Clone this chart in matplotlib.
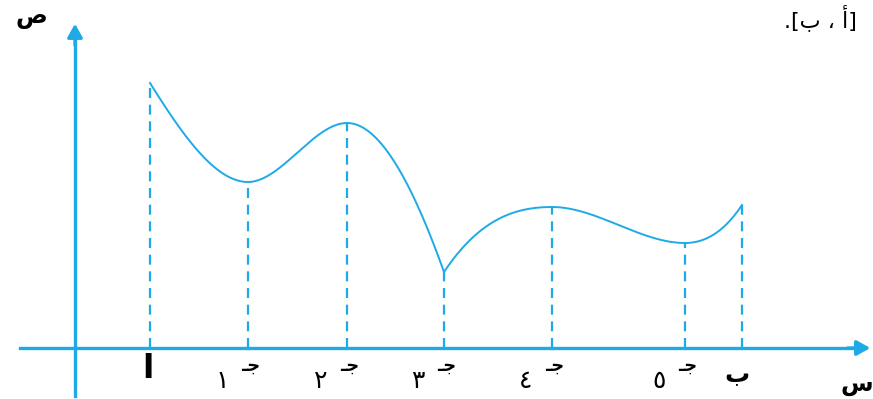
import numpy as np
import matplotlib
matplotlib.use("Agg")
import matplotlib.pyplot as plt

# Key points of the curve (units: x to the right of the y-axis, y above the x-axis)
point_names = ["a", "c1", "c2", "c3", "c4", "c5", "b"]
x_vals = [0.75, 1.73, 2.72, 3.69, 4.77, 6.10, 6.67]
y_vals = [2.65, 1.66, 2.25, 0.76, 1.41, 1.05, 1.43]
# slopes at left/right side of each key point (cusp at c3)
slope_left = [None, 0.0, 0.0, -2.8, 0.0, 0.0, 1.5]
slope_right = [-1.6, 0.0, 0.0, 1.5, 0.0, 0.0, None]

tick_labels = ["ا", "١", "٢", "٣", "٤", "٥", "ب"]  # a, c1..c5 digits, b
sub_glyph = "ـﺟ"  # visual order of "جـ"
y_axis_label = "ﺹ"
x_axis_label = "ﺱ"
interval_text = ".[ﺏ ، ﺃ]"

blue = "#1eaae6"
fig = plt.figure(figsize=(8.73, 3.99), dpi=100)
ax = fig.add_axes([0, 0, 1, 1])
ax.set_xlim(-0.75, 7.98)
ax.set_ylim(-0.51, 3.48)
ax.axis("off")

# curve via cubic Hermite segments
xs_all, ys_all = [], []
for i in range(len(x_vals) - 1):
    x0, x1 = x_vals[i], x_vals[i + 1]
    y0, y1 = y_vals[i], y_vals[i + 1]
    m0, m1 = slope_right[i], slope_left[i + 1]
    h = x1 - x0
    t = np.linspace(0, 1, 120)
    h00 = 2 * t**3 - 3 * t**2 + 1
    h10 = t**3 - 2 * t**2 + t
    h01 = -2 * t**3 + 3 * t**2
    h11 = t**3 - t**2
    xs_all.append(x0 + t * h)
    ys_all.append(h00 * y0 + h10 * h * m0 + h01 * y1 + h11 * h * m1)
ax.plot(np.concatenate(xs_all), np.concatenate(ys_all), color=blue, lw=1.4)

# dashed verticals
for x, y in zip(x_vals, y_vals):
    ax.plot([x, x], [0, y], color=blue, lw=1.6, ls=(0, (4.5, 3)))

# axes with arrows
ax.plot([-0.55, 7.9], [0, 0], color=blue, lw=2.4)
ax.plot([0, 0], [-0.48, 3.15], color=blue, lw=2.4)
ax.annotate("", xy=(7.98, 0), xytext=(7.7, 0),
            arrowprops=dict(arrowstyle="-|>,head_length=0.8,head_width=0.45", color=blue, lw=2.4))
ax.annotate("", xy=(0, 3.27), xytext=(0, 3.0),
            arrowprops=dict(arrowstyle="-|>,head_length=0.8,head_width=0.45", color=blue, lw=2.4))

# labels under x-axis
ax.text(x_vals[0] - 0.02, -0.21, tick_labels[0], fontsize=24, ha="center", va="center",
        fontweight="bold", family="DejaVu Sans")
for x, lab in zip(x_vals[1:-1], tick_labels[1:-1]):
    ax.text(x - 0.26, -0.33, lab, fontsize=18, ha="center", va="center", family="DejaVu Sans")
    ax.text(x + 0.03, -0.18, sub_glyph, fontsize=13, ha="center", va="center",
            family="DejaVu Sans", fontweight="bold")
ax.text(x_vals[-1] - 0.05, -0.27, tick_labels[-1], fontsize=18, ha="center", va="center",
        family="DejaVu Sans", fontweight="bold")

ax.text(-0.44, 3.31, y_axis_label, fontsize=17, ha="center", va="center",
        family="DejaVu Sans", fontweight="bold")
ax.text(7.82, -0.36, x_axis_label, fontsize=17, ha="center", va="center",
        family="DejaVu Sans", fontweight="bold")
ax.text(7.45, 3.3, interval_text, fontsize=16, ha="center", va="center", family="DejaVu Sans")

fig.savefig("out.png", dpi=100)
